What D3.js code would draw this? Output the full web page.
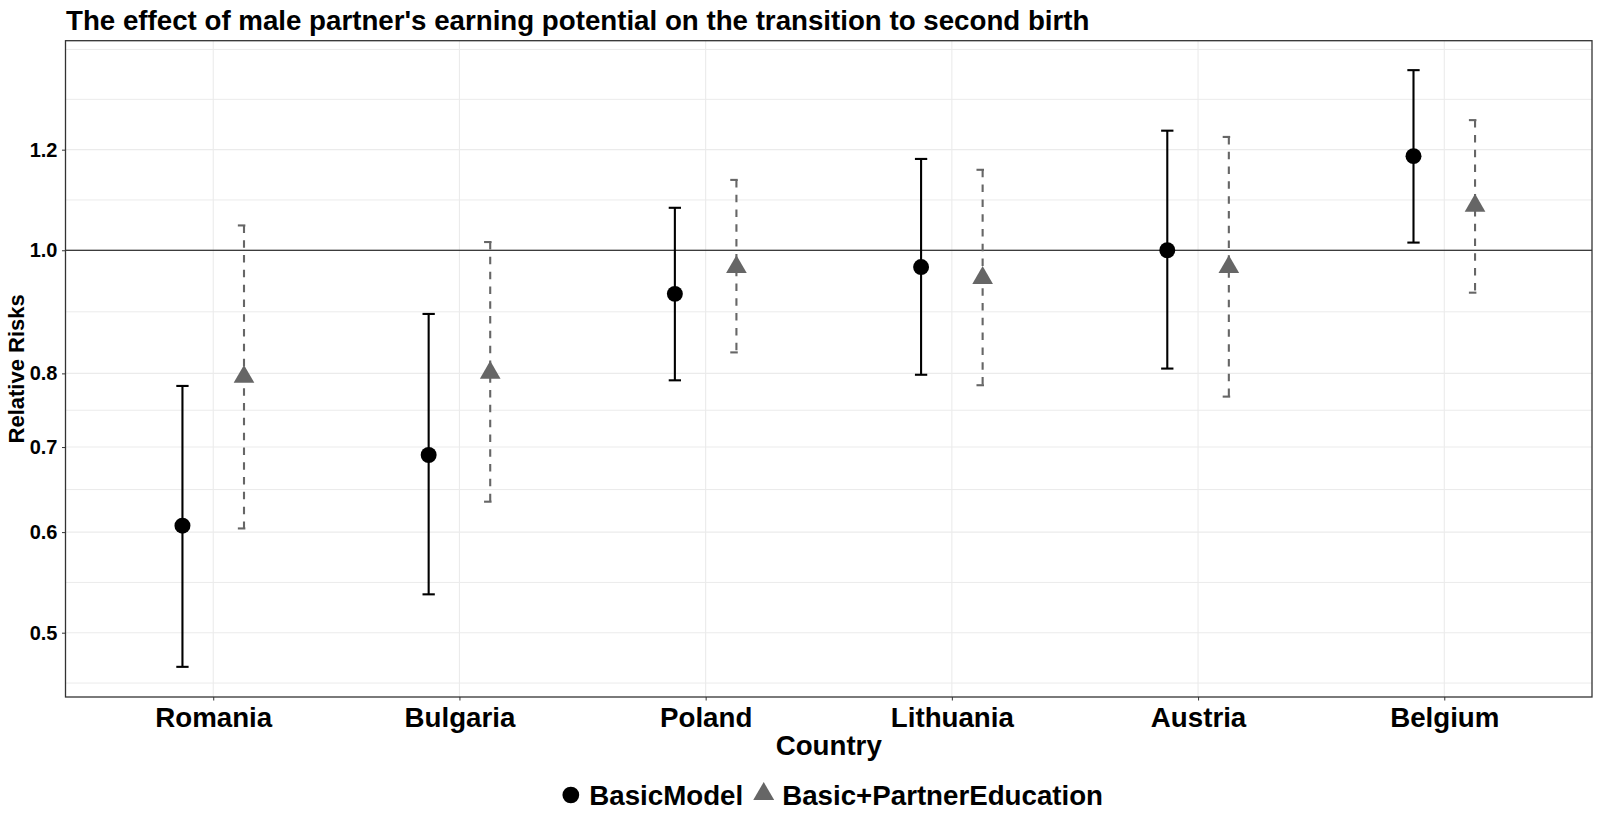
<!DOCTYPE html>
<html>
<head>
<meta charset="utf-8">
<script src="https://cdn.jsdelivr.net/npm/d3@7"></script>
<style>
  body { margin: 0; background: #fff; }
  text { font-family: "Liberation Sans", Arial, sans-serif; font-weight: bold; fill: #000; }
</style>
</head>
<body>
<div id="chart"></div>
<script>
// data
const countries = ["Romania", "Bulgaria", "Poland", "Lithuania", "Austria", "Belgium"];
const basicEst = [0.607, 0.690, 0.924, 0.970, 1.000, 1.186];
const basicLo  = [0.470, 0.536, 0.790, 0.798, 0.807, 1.014];
const basicHi  = [0.782, 0.891, 1.080, 1.180, 1.242, 1.386];
const partnerEst = [0.795, 0.801, 0.970, 0.951, 0.970, 1.084];
const partnerLo  = [0.604, 0.634, 0.831, 0.783, 0.767, 0.926];
const partnerHi  = [1.046, 1.015, 1.136, 1.157, 1.228, 1.266];
const seriesNames = ["BasicModel", "Basic+PartnerEducation"];
const yTicks = [0.5, 0.6, 0.7, 0.8, 1.0, 1.2];
const yMinor = [0.4564, 0.5477, 0.6481, 0.7483, 0.8944, 1.0954, 1.3146, 1.439];

const width = 1600, height = 822;
const margin = {top: 40.7, right: 8, bottom: 125, left: 65.5};

const svg = d3.select("#chart").append("svg")
    .attr("width", width).attr("height", height)
    .attr("viewBox", [0, 0, width, height]);

const x = d3.scalePoint()
    .domain(countries)
    .range([margin.left, width - margin.right])
    .padding(0.6);
const y = d3.scaleLog()
    .domain([0.445, 1.462])
    .range([height - margin.bottom, margin.top]);

const step = x.step();
const series = [
  {name: seriesNames[0], est: basicEst, lo: basicLo, hi: basicHi, color: "#000000", dash: null, shape: d3.symbolCircle, size: 200, dodge: -0.125},
  {name: seriesNames[1], est: partnerEst, lo: partnerLo, hi: partnerHi, color: "#666666", dash: "7.5,7.3", shape: d3.symbolTriangle, size: 185, dodge: 0.125}
];

// grid
const grid = svg.append("g");
grid.selectAll(".minor").data(yMinor).join("line")
    .attr("x1", margin.left).attr("x2", width - margin.right)
    .attr("y1", d => y(d)).attr("y2", d => y(d))
    .attr("stroke", "#ebebeb").attr("stroke-width", 1);
grid.selectAll(".major").data(yTicks).join("line")
    .attr("x1", margin.left).attr("x2", width - margin.right)
    .attr("y1", d => y(d)).attr("y2", d => y(d))
    .attr("stroke", "#ebebeb").attr("stroke-width", 1.1);
grid.selectAll(".vmajor").data(countries).join("line")
    .attr("x1", d => x(d)).attr("x2", d => x(d))
    .attr("y1", margin.top).attr("y2", height - margin.bottom)
    .attr("stroke", "#ebebeb").attr("stroke-width", 1.1);

// reference line at 1
svg.append("line")
    .attr("x1", margin.left).attr("x2", width - margin.right)
    .attr("y1", y(1)).attr("y2", y(1))
    .attr("stroke", "#000").attr("stroke-width", 1.2);

// error bars: caps and stem as separate segments, like ggplot
const capW = 0.025 * step;
series.forEach(s => {
  const g = svg.append("g")
      .attr("stroke", s.color).attr("stroke-width", 2.1)
      .attr("stroke-dasharray", s.dash).attr("fill", "none");
  countries.forEach((c, i) => {
    const cx = x(c) + s.dodge * step;
    g.append("path").attr("d", `M${cx - capW},${y(s.hi[i])}H${cx + capW}`);
    g.append("path").attr("d", `M${cx},${y(s.hi[i])}V${y(s.lo[i])}`);
    g.append("path").attr("d", `M${cx - capW},${y(s.lo[i])}H${cx + capW}`);
  });
});

// points
series.forEach(s => {
  svg.append("g").selectAll("path").data(countries).join("path")
      .attr("transform", (c, i) => `translate(${x(c) + s.dodge * step},${y(s.est[i])})`)
      .attr("d", d3.symbol(s.shape, s.size))
      .attr("fill", s.color);
});

// panel border
svg.append("rect")
    .attr("x", margin.left).attr("y", margin.top)
    .attr("width", width - margin.right - margin.left)
    .attr("height", height - margin.bottom - margin.top)
    .attr("fill", "none").attr("stroke", "#333").attr("stroke-width", 1.3);

// axes
const yAxis = svg.append("g")
    .attr("transform", `translate(${margin.left},0)`)
    .call(d3.axisLeft(y).tickValues(yTicks).tickFormat(d3.format(".1f")).tickSizeInner(3.5).tickSizeOuter(0).tickPadding(4.5));
yAxis.select(".domain").remove();
yAxis.selectAll("line").attr("stroke", "#333");
yAxis.selectAll("text").style("font-size", "20px").attr("fill", "#000");

const xAxis = svg.append("g")
    .attr("transform", `translate(0,${height - margin.bottom})`)
    .call(d3.axisBottom(x).tickSizeInner(3.5).tickSizeOuter(0).tickPadding(4));
xAxis.select(".domain").remove();
xAxis.selectAll("line").attr("stroke", "#333");
xAxis.selectAll("text").style("font-size", "27.7px").attr("fill", "#000").attr("dy", null).attr("y", 29.5);

// titles
svg.append("text")
    .attr("x", 66).attr("y", 30)
    .style("font-size", "27.7px")
    .text("The effect of male partner's earning potential on the transition to second birth");

svg.append("text")
    .attr("x", (margin.left + width - margin.right) / 2).attr("y", 755)
    .attr("text-anchor", "middle")
    .style("font-size", "27.7px")
    .text("Country");

svg.append("text")
    .attr("transform", `translate(24,${(margin.top + height - margin.bottom) / 2}) rotate(-90)`)
    .attr("text-anchor", "middle")
    .style("font-size", "22px")
    .text("Relative Risks");

// legend, laid out left to right then centred under the panel
const legendY = 795;
const legend = svg.append("g");
let lx = 0;
series.forEach(s => {
  legend.append("path")
      .attr("transform", `translate(${lx},${s.shape === d3.symbolCircle ? legendY : legendY - 1})`)
      .attr("d", d3.symbol(s.shape, s.shape === d3.symbolCircle ? 220 : 190))
      .attr("fill", s.color);
  const t = legend.append("text")
      .attr("x", lx + 18.5).attr("y", legendY + 9.8)
      .style("font-size", "27.7px")
      .text(s.name);
  lx += 18.5 + t.node().getComputedTextLength() + 20.5;
});
const lb = legend.node().getBBox();
legend.attr("transform", `translate(${(margin.left + width - margin.right) / 2 + 4 - (lb.x + lb.width / 2)},0)`);
</script>
</body>
</html>
